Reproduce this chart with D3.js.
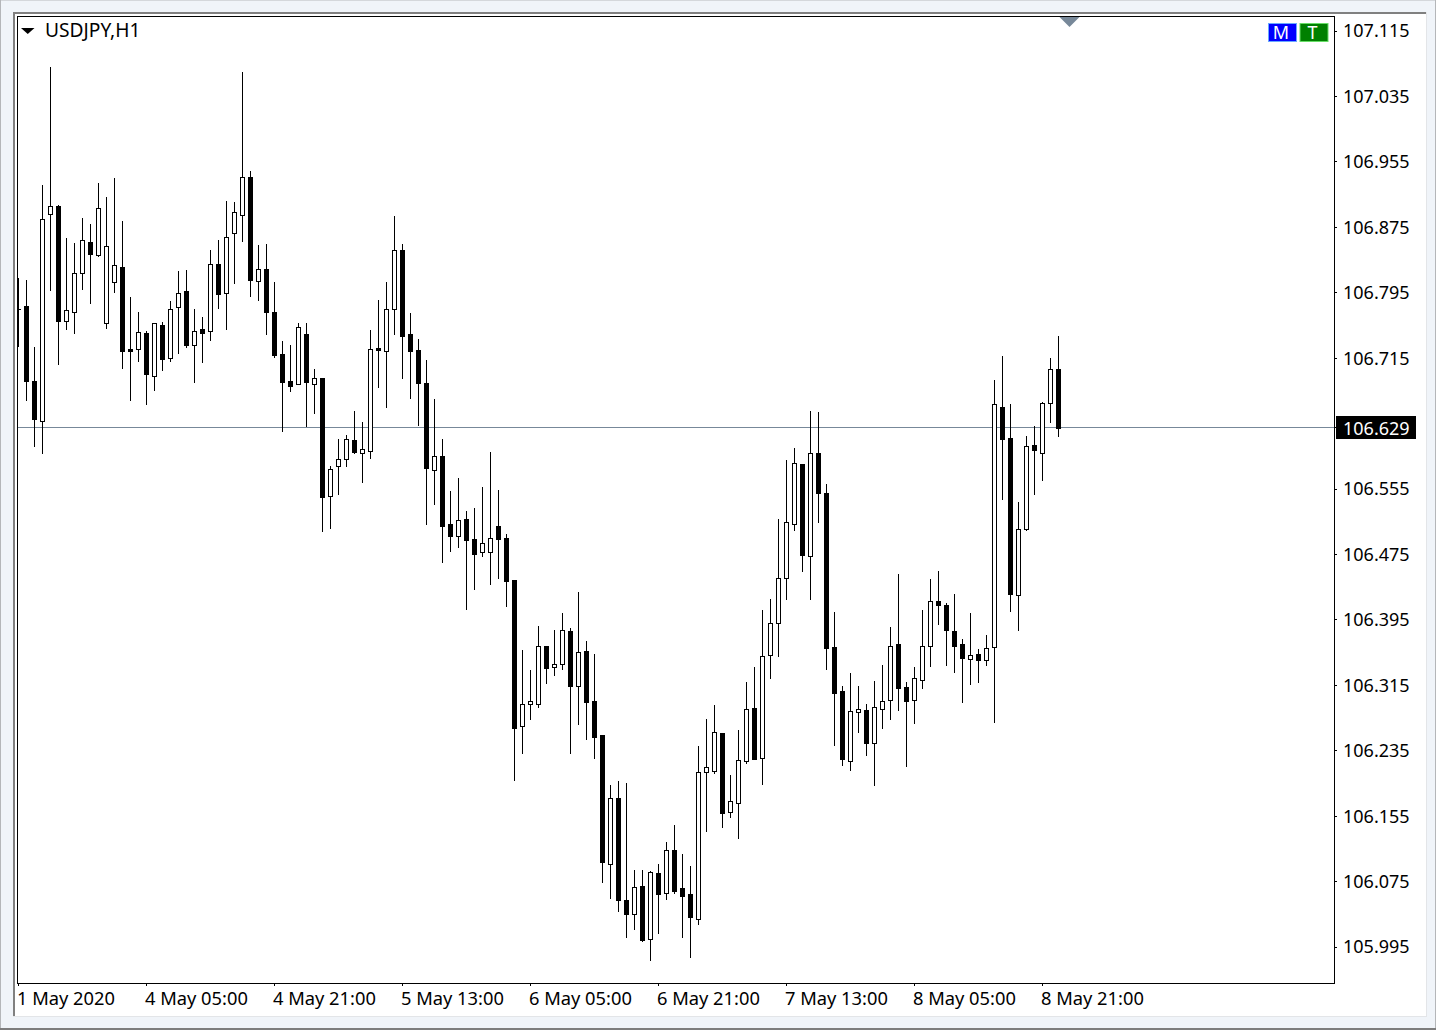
<!DOCTYPE html>
<html>
<head>
<meta charset="utf-8">
<script src="https://cdnjs.cloudflare.com/ajax/libs/d3/7.8.5/d3.min.js"></script>
<style>
html,body{margin:0;padding:0;background:#f0f4f9;overflow:hidden}
svg{display:block}
text{font-family:"Noto Sans",Tahoma,sans-serif;fill:#000}
</style>
</head>
<body>
<svg id="c" width="1436" height="1030"></svg>
<script>
const symbolLabel = "USDJPY,H1";
const lastPrice = 106.629;
const priceTicks = [107.115,107.035,106.955,106.875,106.795,106.715,106.555,106.475,106.395,106.315,106.235,106.155,106.075,105.995];
const timeTickBars = [0,16,32,48,64,80,96,112,128];
const timeTickLabels = ["1 May 2020","4 May 05:00","4 May 21:00","5 May 13:00","6 May 05:00","6 May 21:00","7 May 13:00","8 May 05:00","8 May 21:00"];

const opens = [
106.775,106.778,106.687,106.637,106.891,106.900,106.760,106.771,106.819,106.857,
106.841,106.757,106.807,106.826,106.726,106.725,106.745,106.693,106.755,106.714,
106.777,106.796,106.731,106.750,106.747,106.830,106.794,106.867,106.889,106.936,
106.809,106.823,106.771,106.720,106.687,106.683,106.744,106.683,106.690,106.546,
106.582,106.591,106.614,106.598,106.601,106.727,106.723,106.774,106.847,106.744,
106.724,106.684,106.578,106.595,106.511,106.497,106.518,106.493,106.477,106.477,
106.509,106.495,106.443,106.264,106.291,106.292,106.362,106.337,106.340,106.381,
106.313,106.356,106.295,106.253,106.096,106.177,106.052,106.035,106.069,106.004,
106.085,106.061,106.113,106.067,106.059,106.029,106.208,106.210,106.256,106.159,
106.170,106.222,106.287,106.226,106.351,106.390,106.445,106.511,106.585,106.473,
106.598,106.550,106.361,106.308,106.222,106.282,106.284,106.244,106.286,106.296,
106.365,106.312,106.296,106.321,106.363,106.418,106.413,106.381,106.365,106.346,
106.353,106.345,106.361,106.655,106.617,106.425,106.505,106.608,106.599,106.660,106.701];

const highs = [
106.812,106.810,106.728,106.926,107.070,106.902,106.861,106.855,106.886,106.878,
106.929,106.911,106.935,106.882,106.789,106.771,106.748,106.757,106.759,106.784,
106.821,106.822,106.775,106.765,106.847,106.859,106.907,106.905,107.064,106.943,
106.853,106.854,106.808,106.735,106.730,106.757,106.757,106.701,106.690,106.583,
106.616,106.620,106.650,106.636,106.749,106.785,106.808,106.888,106.854,106.770,
106.738,106.712,106.665,106.616,106.552,106.568,106.528,106.531,106.557,106.600,
106.553,106.499,106.443,106.358,106.333,106.387,106.362,106.382,106.403,106.385,
106.429,106.369,106.353,106.253,106.193,106.197,106.195,106.089,106.089,106.087,
106.096,106.123,106.144,106.108,106.094,106.240,106.273,106.290,106.256,106.205,
106.260,106.318,106.337,106.407,106.420,106.518,106.590,106.605,106.585,106.650,
106.649,106.561,106.404,106.314,106.330,106.314,106.292,106.320,106.339,106.386,
106.451,106.318,106.337,106.407,106.444,106.454,106.415,106.426,106.371,106.403,
106.359,106.376,106.688,106.717,106.658,106.539,106.619,106.631,106.661,106.715,106.741];

const lows = [
106.729,106.663,106.607,106.599,106.798,106.707,106.750,106.745,106.799,106.782,
106.839,106.751,106.795,106.702,106.663,106.711,106.658,106.675,106.700,106.711,
106.721,106.728,106.685,106.710,106.737,106.776,106.750,106.806,106.858,106.790,
106.785,106.744,106.716,106.625,106.674,106.683,106.631,106.647,106.503,106.507,
106.548,106.583,106.598,106.563,106.592,106.679,106.655,106.744,106.690,106.666,
106.633,106.511,106.536,106.465,106.479,106.484,106.408,106.432,106.473,106.438,
106.446,106.411,106.199,106.232,106.273,106.288,106.317,106.327,106.334,106.231,
106.267,106.249,106.226,106.074,106.054,106.039,106.007,106.017,106.002,105.979,
106.012,106.053,106.061,106.007,105.982,106.023,106.136,106.207,106.141,106.153,
106.128,106.219,106.224,106.194,106.323,106.350,106.420,106.504,106.454,106.420,
106.514,106.334,106.241,106.217,106.211,106.257,106.229,106.193,106.262,106.273,
106.284,106.216,106.268,106.311,106.338,106.389,106.339,106.331,106.294,106.316,
106.318,106.339,106.270,106.542,106.405,106.382,106.504,106.548,106.565,106.636,106.619];

const closes = [
106.774,106.686,106.640,106.884,106.900,106.760,106.773,106.818,106.859,106.842,
106.898,106.851,106.828,106.723,106.723,106.746,106.695,106.757,106.713,106.774,
106.794,106.730,106.748,106.745,106.829,106.793,106.863,106.893,106.936,106.810,
106.823,106.771,106.718,106.685,106.680,106.753,106.685,106.690,106.545,106.579,
106.591,106.615,106.600,106.603,106.725,106.724,106.774,106.847,106.741,106.723,
106.684,106.580,106.595,106.509,106.497,106.516,106.492,106.475,106.488,106.495,
106.493,106.442,106.262,106.292,106.295,106.362,106.336,106.341,106.382,106.314,
106.355,106.294,106.251,106.098,106.176,106.052,106.035,106.068,106.003,106.086,
106.059,106.113,106.063,106.057,106.031,106.208,106.214,106.257,106.158,106.173,
106.223,106.285,106.224,106.350,106.390,106.445,106.514,106.586,106.474,106.598,
106.550,106.360,106.305,106.224,106.283,106.285,106.244,106.288,106.295,106.362,
106.311,106.295,106.323,106.362,106.417,106.413,106.382,106.362,106.348,106.352,
106.345,106.360,106.658,106.616,106.426,106.505,106.607,106.602,106.659,106.701,106.629];

const bars = opens.map((o,i)=>({i,o,h:highs[i],l:lows[i],c:closes[i]}));

const W=1436,H=1030;
const plot={l:17,t:16,r:1334,b:983};
const svg=d3.select("#c");

const x=d3.scaleLinear().domain([0,130]).range([18,1058]);
const y=d3.scaleLinear().domain([105.995,107.115]).range([946.5,30.5]);
const py=v=>Math.round(y(v));

// window chrome
svg.append("rect").attr("width",W).attr("height",H).attr("fill","#f0f4f9");
svg.append("rect").attr("x",0).attr("y",0).attr("width",W).attr("height",1).attr("fill","#d4d7db");
svg.append("rect").attr("x",0).attr("y",0).attr("width",1).attr("height",H).attr("fill","#b4b6b9");
svg.append("rect").attr("x",W-1).attr("y",0).attr("width",1).attr("height",H).attr("fill","#b4b6b9");
svg.append("rect").attr("x",0).attr("y",H-2).attr("width",W).attr("height",2).attr("fill","#7d7d7d");
// chart sub-window
svg.append("rect").attr("x",13).attr("y",12).attr("width",1414).attr("height",1005).attr("fill","#e3e5e8");
svg.append("rect").attr("x",13).attr("y",12).attr("width",1413).attr("height",1004).attr("fill","#808080");
svg.append("rect").attr("x",15).attr("y",14).attr("width",1411).attr("height",1002).attr("fill","#fff");
// plot
svg.append("defs").append("clipPath").attr("id","pc").append("rect")
  .attr("x",plot.l+1).attr("y",plot.t+1).attr("width",plot.r-plot.l-1).attr("height",plot.b-plot.t-1);
svg.append("rect").attr("x",plot.l+.5).attr("y",plot.t+.5).attr("width",plot.r-plot.l).attr("height",plot.b-plot.t)
  .attr("fill","#fff").attr("stroke","#000").attr("stroke-width",1);

const g=svg.append("g").attr("clip-path","url(#pc)").attr("shape-rendering","crispEdges");
// last price line
g.append("rect").attr("x",plot.l).attr("width",plot.r-plot.l).attr("y",py(lastPrice)-1).attr("height",1).attr("fill","#778899");

// wicks
g.selectAll("rect.w").data(bars).join("rect").attr("class","w")
  .attr("x",d=>x(d.i)).attr("width",1)
  .attr("y",d=>py(d.h)).attr("height",d=>py(d.l)-py(d.h)+1)
  .attr("fill","#000");
// bodies
g.selectAll("rect.up").data(bars.filter(d=>d.c>=d.o)).join("rect").attr("class","up")
  .attr("x",d=>x(d.i)-1.5).attr("width",4)
  .attr("y",d=>py(d.c)+.5).attr("height",d=>Math.max(1,py(d.o)-py(d.c)))
  .attr("fill","#fff").attr("stroke","#000").attr("stroke-width",1);
g.selectAll("rect.dn").data(bars.filter(d=>d.c<d.o)).join("rect").attr("class","dn")
  .attr("x",d=>x(d.i)-2).attr("width",5)
  .attr("y",d=>py(d.o)).attr("height",d=>py(d.c)-py(d.o)+1)
  .attr("fill","#000");

// axes
const yAxis=d3.axisRight(y).tickValues(priceTicks).tickSize(3).tickPadding(6).tickFormat(d3.format(".3f"));
const ya=svg.append("g").attr("transform",`translate(${plot.r},0)`).call(yAxis);
ya.select(".domain").remove();
ya.selectAll("line").attr("stroke","#000").attr("shape-rendering","crispEdges").attr("x1",1).attr("x2",3);
ya.selectAll("text").attr("font-size",18).attr("fill","#000").attr("y",0.6).style("font-family",'"Noto Sans",Tahoma,sans-serif');

const xAxis=d3.axisBottom(x).tickValues(timeTickBars).tickSize(3).tickFormat((d,i)=>timeTickLabels[i]);
const xa=svg.append("g").attr("transform",`translate(0,${plot.b})`).call(xAxis);
xa.select(".domain").remove();
xa.selectAll("line").attr("stroke","#000").attr("shape-rendering","crispEdges");
xa.selectAll("text").attr("font-size",18.3).attr("fill","#000").attr("text-anchor","start")
  .attr("x",-1.5).attr("y",22).attr("dy",0).style("font-family",'"Noto Sans",Tahoma,sans-serif');

// last price tag
svg.append("line").attr("x1",plot.r+1).attr("x2",plot.r+3).attr("y1",py(lastPrice)-.5).attr("y2",py(lastPrice)-.5).attr("stroke","#000");
svg.append("rect").attr("x",1336).attr("y",416).attr("width",80).attr("height",23).attr("fill","#000");
svg.append("text").attr("x",1343).attr("y",435).attr("font-size",18).style("fill","#fff").text(d3.format(".3f")(lastPrice));

// symbol label
svg.append("path").attr("d","M21 28 L34.5 28 L27.75 34 Z").attr("fill","#000");
svg.append("text").attr("x",45).attr("y",37).attr("font-size",19.2).text(symbolLabel);

// one-click trading triangle
svg.append("path").attr("d","M1059.5 17 L1079.5 17 L1069.5 27 Z").attr("fill","#778899");

// M / T badges
[["M",1268,"#0000ff","#6aa8ff"],["T",1299.5,"#008000","#66dd66"]].forEach(([t,bx,f,s])=>{
  svg.append("rect").attr("x",bx+.5).attr("y",23.5).attr("width",28).attr("height",18)
    .attr("fill",f).attr("stroke",s).attr("stroke-width",1);
  svg.append("text").attr("x",bx+13).attr("y",39).attr("text-anchor","middle").attr("font-size",18)
    .style("fill","#fff").text(t);
});
</script>
</body>
</html>
